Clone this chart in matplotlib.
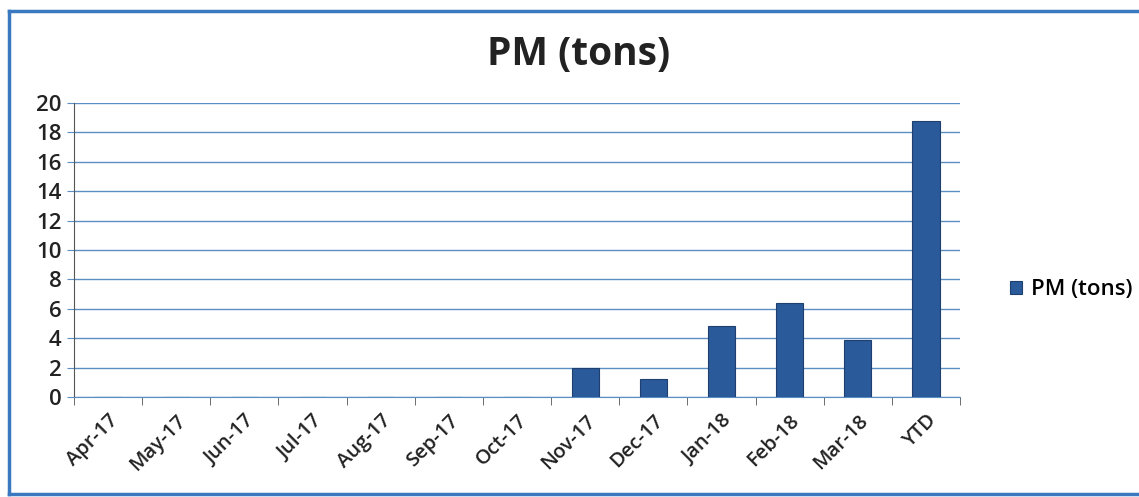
import matplotlib
matplotlib.use("Agg")
import matplotlib.pyplot as plt
from matplotlib.lines import Line2D
import numpy as np

categories = ["Apr-17", "May-17", "Jun-17", "Jul-17", "Aug-17", "Sep-17", "Oct-17",
              "Nov-17", "Dec-17", "Jan-18", "Feb-18", "Mar-18", "YTD"]
values = [0, 0, 0, 0, 0, 0, 0, 2.0, 1.2, 4.8, 6.4, 3.9, 18.8]
series_name = "PM (tons)"
yticks = list(range(0, 21, 2))

plt.rcParams['font.family'] = ['Open Sans', 'DejaVu Sans']

W, H = 1139, 497
fig = plt.figure(figsize=(W / 100, H / 100), dpi=100)
fig.patch.set_facecolor("white")

ax = fig.add_axes([74 / W, 1 - 397 / H, (960 - 74) / W, (397 - 103) / H])
x = np.arange(len(categories))
bars = ax.bar(x, values, width=0.4, color="#2a5a9a", edgecolor="#1f3f6e",
              linewidth=0.8, label=series_name, zorder=3)

ax.set_xlim(-0.5, len(categories) - 0.5)
ax.set_ylim(0, 20)
ax.set_yticks(yticks)
ax.set_yticklabels([str(t) for t in yticks], fontsize=16, fontweight="semibold",
                   color="#222222")
ax.yaxis.grid(True, color="#5b8fc4", linewidth=1.0, zorder=0)
ax.tick_params(axis="y", length=5, color="#5b8fc4", pad=4)

ax.set_xticks(x)
ax.set_xticklabels(categories, rotation=45, ha="right", rotation_mode="anchor",
                   fontsize=14.5, fontweight="semibold", color="#222222")
ax.set_xticks(np.arange(-0.5, len(categories), 1), minor=True)
ax.tick_params(axis="x", which="major", length=0, pad=10)
ax.tick_params(axis="x", which="minor", length=6, color="#555555")

for s in ["top", "right"]:
    ax.spines[s].set_visible(False)
ax.spines["left"].set_color("#555555")
ax.spines["bottom"].set_color("#5b8fc4")

fig.text(579 / W, 1 - 55 / H, "PM (tons)", ha="center", va="center",
         fontsize=28, fontweight="bold", color="#222222")

leg = fig.legend(handles=[bars], labels=[series_name], loc="center left",
                 bbox_to_anchor=(990 / W, 1 - 290 / H), frameon=False,
                 prop={"size": 16, "weight": "semibold"},
                 handlelength=0.55, handleheight=0.55, handletextpad=0.4)

bc = "#3a78c0"
lx, ty, by = 9 / W, 1 - 11 / H, 1 - 494 / H
for xs, ys in [([lx, lx], [by, ty]), ([lx, 1.0], [ty, ty]), ([lx, 1.0], [by, by])]:
    fig.add_artist(Line2D(xs, ys, transform=fig.transFigure, color=bc,
                          linewidth=2.5, solid_capstyle="projecting"))

fig.savefig("out.png", dpi=100)
